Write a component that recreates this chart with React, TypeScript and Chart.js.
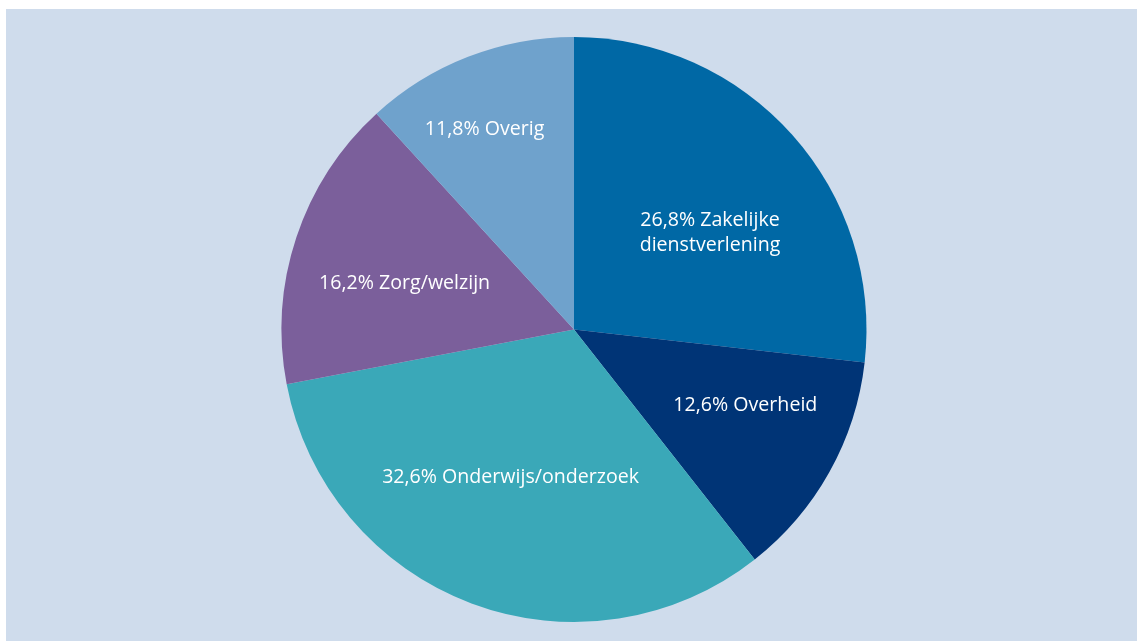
import React, { useEffect, useRef } from "react";
import { Chart, registerables } from "chart.js";

Chart.register(...registerables);

const categories = [
  ["26,8% Zakelijke", "dienstverlening"],
  ["12,6% Overheid"],
  ["32,6% Onderwijs/onderzoek"],
  ["16,2% Zorg/welzijn"],
  ["11,8% Overig"],
];
const values = [26.8, 12.6, 32.6, 16.2, 11.8];
const colors = ["#0068a5", "#003476", "#3aa8b8", "#7b5f9b", "#6fa2cc"];

// label placement: fraction of radius, angle offset (degrees) from slice middle
const labelRadius = [0.57, 0.64, 0.55, 0.6, 0.75];
const labelAngleOffset = [6.4, -5.4, 2.7, -3.2, -2.8];

const labelPlugin = {
  id: "sliceLabels",
  afterDraw(chart: any) {
    const ctx = chart.ctx;
    const meta = chart.getDatasetMeta(0);
    ctx.save();
    ctx.fillStyle = "#ffffff";
    ctx.font = "19.6px 'Open Sans'";
    ctx.textAlign = "center";
    ctx.textBaseline = "middle";
    meta.data.forEach((arc: any, i: number) => {
      const mid = (arc.startAngle + arc.endAngle) / 2 + (labelAngleOffset[i] * Math.PI) / 180;
      const r = arc.outerRadius * labelRadius[i];
      const x = arc.x + Math.cos(mid) * r;
      const y = arc.y + Math.sin(mid) * r;
      const lines = categories[i];
      const lh = 25;
      lines.forEach((line, j) => {
        ctx.fillText(line, x, y + (j - (lines.length - 1) / 2) * lh);
      });
    });
    ctx.restore();
  },
};

export default function App() {
  const ref = useRef<HTMLCanvasElement>(null);
  useEffect(() => {
    if (!ref.current) return;
    const chart = new Chart(ref.current, {
      type: "pie",
      data: {
        labels: categories.map((c) => c.join(" ")),
        datasets: [
          {
            data: values,
            backgroundColor: colors,
            borderWidth: 0,
          },
        ],
      },
      options: {
        animation: false,
        responsive: true,
        maintainAspectRatio: false,
        layout: { padding: { left: 275, right: 270, top: 28, bottom: 19 } },
        plugins: {
          legend: { display: false },
          tooltip: { enabled: false },
        },
      },
      plugins: [labelPlugin],
    });
    return () => chart.destroy();
  }, []);
  return (
    <div
      style={{
        position: "absolute",
        left: 6,
        top: 9,
        width: 1131,
        height: 632,
        background: "#cfdcec",
      }}
    >
      <canvas ref={ref} />
    </div>
  );
}
